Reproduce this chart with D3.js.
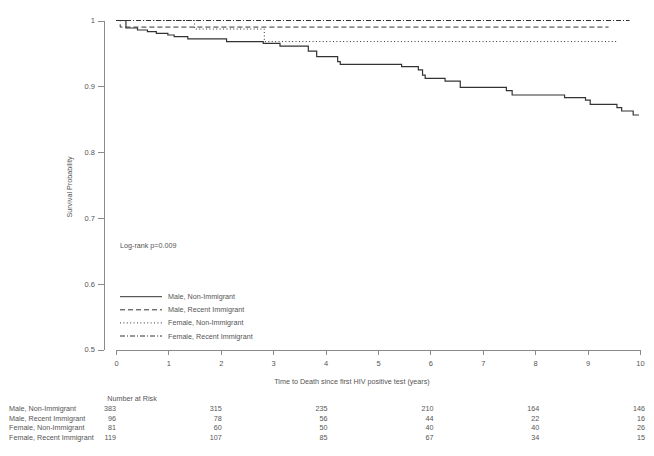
<!DOCTYPE html>
<html>
<head>
<meta charset="utf-8">
<script src="https://cdn.jsdelivr.net/npm/d3@7"></script>
<style>
  body { margin: 0; background: #fff; }
  svg { display: block; font-family: "Liberation Sans", Arial, sans-serif; opacity: 0.995; }
  .axis path, .axis line { stroke: #8a8a8a; shape-rendering: crispEdges; }
  .axis text { fill: #555; font-size: 7.5px; }
  .lbl { fill: #555; font-size: 7.2px; }
</style>
</head>
<body>
<svg id="chart" width="654" height="456"></svg>
<script>
// Groups
var groups = ["Male, Non-Immigrant", "Male, Recent Immigrant", "Female, Non-Immigrant", "Female, Recent Immigrant"];

// Kaplan-Meier step points [time, survival]
var maleNon = [[0, 1], [0.19, 0.9886], [0.41, 0.9856], [0.60, 0.983], [0.77, 0.9805], [0.99, 0.978],
  [1.11, 0.9754], [1.37, 0.972], [2.11, 0.968], [2.81, 0.9653], [3.13, 0.961], [3.67, 0.9536],
  [3.83, 0.945], [4.23, 0.9374], [4.28, 0.9334], [5.45, 0.9298], [5.77, 0.925], [5.85, 0.917],
  [5.9, 0.912], [6.28, 0.908], [6.57, 0.8985], [7.45, 0.8933], [7.56, 0.8868], [8.56, 0.8827],
  [8.96, 0.879], [9.05, 0.8726], [9.56, 0.8675], [9.65, 0.8625], [9.87, 0.8564], [9.98, 0.8564]];
var maleRecent = [[0, 1], [0.08, 0.990], [9.4, 0.990]];
var femaleNon = [[0, 1], [1.5, 0.987], [2.83, 0.968], [9.55, 0.968]];
var femaleRecent = [[0, 1], [9.8, 1]];

// Number at risk table
var riskTimes = [0, 2, 4, 6, 8, 10];
var riskMaleNon = [383, 315, 235, 210, 164, 146];
var riskMaleRecent = [96, 78, 56, 44, 22, 16];
var riskFemaleNon = [81, 60, 50, 40, 40, 26];
var riskFemaleRecent = [119, 107, 85, 67, 34, 15];

var xTicks = [0, 1, 2, 3, 4, 5, 6, 7, 8, 9, 10];
var yTicks = [0.5, 0.6, 0.7, 0.8, 0.9, 1];
var pText = "Log-rank p=0.009";

// Line styles per group
var dashes = [null, "5,3", "1,2.4", "5,2,1,2"];
var series = [maleNon, maleRecent, femaleNon, femaleRecent];
var risk = [riskMaleNon, riskMaleRecent, riskFemaleNon, riskFemaleRecent];

var svg = d3.select("#chart");
var x = d3.scaleLinear().domain([0, 10]).range([116, 640]);
var y = d3.scaleLinear().domain([0.5, 1]).range([349.5, 20.5]);
var riskX = d3.scaleLinear().domain([0, 10]).range([116, 645]);

// Axes
svg.append("g").attr("class", "axis")
  .attr("transform", "translate(104,0)")
  .call(d3.axisLeft(y).tickValues(yTicks).tickSize(6).tickSizeOuter(0).tickPadding(3)
    .tickFormat(function (d) { return d === 1 ? "1" : d3.format(".1f")(d); }));

svg.append("g").attr("class", "axis")
  .attr("transform", "translate(0,349.5)")
  .call(d3.axisBottom(x).tickValues(xTicks).tickSize(5).tickSizeOuter(0).tickPadding(6)
    .tickFormat(d3.format("d")));

// Axis titles
svg.append("text").attr("class", "lbl")
  .attr("transform", "translate(72,187) rotate(-90)")
  .attr("text-anchor", "middle")
  .text("Survival Probability");
svg.append("text").attr("class", "lbl")
  .attr("x", 352).attr("y", 383.5)
  .attr("text-anchor", "middle")
  .text("Time to Death since first HIV positive test (years)");

// Curves
var line = d3.line()
  .x(function (d) { return x(d[0]); })
  .y(function (d) { return y(d[1]); })
  .curve(d3.curveStepAfter);

svg.selectAll(".km").data(series).enter()
  .append("path")
  .attr("class", "km")
  .attr("d", line)
  .attr("fill", "none")
  .attr("stroke", "#333")
  .attr("stroke-width", function (d, i) { return i === 0 ? 1.2 : 1; })
  .attr("stroke-dasharray", function (d, i) { return dashes[i]; });

// p-value
svg.append("text").attr("class", "lbl")
  .attr("x", 120).attr("y", 247.5)
  .text(pText);

// Legend
var leg = svg.selectAll(".leg").data(groups).enter()
  .append("g").attr("class", "leg")
  .attr("transform", function (d, i) { return "translate(120," + (296.7 + i * 13.1) + ")"; });
leg.append("line")
  .attr("x1", 0).attr("x2", 42)
  .attr("stroke", "#333").attr("stroke-width", 1)
  .attr("stroke-dasharray", function (d, i) { return dashes[i]; });
leg.append("text").attr("class", "lbl")
  .attr("x", 48).attr("y", 2.5)
  .text(function (d) { return d; });

// Number at risk
svg.append("text").attr("class", "lbl")
  .attr("x", 132).attr("y", 400.5)
  .attr("text-anchor", "middle")
  .text("Number at Risk");

var rows = svg.selectAll(".riskrow").data(groups).enter()
  .append("g").attr("class", "riskrow")
  .attr("transform", function (d, i) { return "translate(0," + (411 + i * 9.5) + ")"; });
rows.append("text").attr("class", "lbl")
  .attr("x", 9)
  .text(function (d) { return d; });
rows.each(function (d, i) {
  d3.select(this).selectAll(".n").data(risk[i]).enter()
    .append("text").attr("class", "lbl n")
    .attr("x", function (v, j) { return riskX(riskTimes[j]); })
    .attr("text-anchor", "end")
    .text(function (v) { return v; });
});
</script>
</body>
</html>
